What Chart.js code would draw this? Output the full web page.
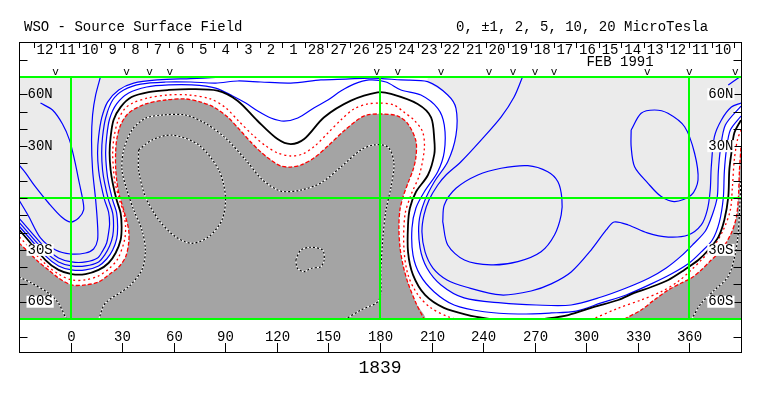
<!DOCTYPE html>
<html>
<head>
<meta charset="utf-8">
<script src="https://cdn.jsdelivr.net/npm/chart.js@4.4.1/dist/chart.umd.min.js"></script>
<style>
  html, body { margin: 0; padding: 0; background: #fff; }
  #wrap { width: 763px; height: 396px; }
</style>
</head>
<body>
<div id="wrap"><canvas id="kaart" width="763" height="396"></canvas></div>
<script>
'use strict';

// ---- data: [carrington longitude, latitude] ----
const lonTicks = [0, 30, 60, 90, 120, 150, 180, 210, 240, 270, 300, 330, 360];
const latTicks = [60, 30, -30, -60];
const latLabels = ['60N', '30N', '30S', '60S'];
const gridLon = [0, 180, 360];
const gridLat = [70, 0, -70];
const dayLabels = ['12', '11', '10', '9', '8', '7', '6', '5', '4', '3', '2', '1', '28', '27', '26', '25',
  '24', '23', '22', '21', '20', '19', '18', '17', '16', '15', '14', '13', '12', '11', '10'];
const dayStart = -21.5;
const dayStep = 13.15;
const obsMarks = [-8.7, 32.6, 46.0, 57.7, 178.2, 190.4, 215.5, 243.4, 257.4, 270.2, 281.3, 335.5, 359.9, 386.7];

const neutralMain = [[-29.7,-18.5],[-14.6,-35.9],[-7.0,-41.6],[0.6,-44.0],[8.7,-44.0],[16.3,-41.6],[22.1,-37.6],[26.2,-31.8],[29.1,-24.3],[29.7,-16.8],[29.1,-8.7],[26.8,-1.2],[24.5,8.7],[23.3,16.2],[22.7,26.0],[23.3,35.3],[25.0,45.1],[29.1,52.6],[35.5,58.4],[45.4,61.3],[57.1,62.5],[69.9,63.0],[85.4,62.1],[97.1,56.3],[108.7,44.7],[120.4,34.1],[128.1,31.2],[135.9,34.1],[147.5,46.7],[163.1,56.3],[178.6,61.1],[186.4,60.2],[201.9,54.4],[209.7,46.7],[211.6,33.5],[211.6,25.4],[207.9,13.3],[200.9,3.5],[197.4,-5.8],[196.3,-15.6],[196.3,-31.2],[199.2,-44.5],[206.2,-56.1],[217.2,-63.6],[231.2,-67.7],[246.4,-70.5]];
const neutralRight = [[272.0,-70.5],[289.5,-67.7],[304.6,-63.0],[318.6,-59.0],[327.9,-54.9],[337.8,-51.5],[347.7,-47.4],[357.0,-41.6],[365.2,-35.9],[371.0,-30.1],[376.8,-22.6],[380.3,-12.7],[382.6,0.6],[383.2,16.2],[384.4,26.0],[386.1,37.6],[390,45.1]];

const negMain = [[-30,-26.0],[-24.5,-31.2],[-18.6,-37.0],[-12.8,-41.6],[-7.0,-46.3],[0.6,-50.3],[8.7,-50.3],[16.3,-48.6],[22.1,-44.5],[28.0,-39.9],[32.0,-34.1],[33.8,-26.0],[33.8,-18.5],[32.0,-11.0],[29.7,-2.9],[28.0,2.9],[26.8,10.4],[26.2,17.9],[26.2,26.0],[26.8,33.5],[29.1,42.2],[33.8,49.2],[43.7,54.4],[55.3,56.7],[67.0,57.3],[75.7,55.5],[83.3,52.6],[91.4,46.8],[99.0,38.8],[104.8,32.4],[110.7,26.6],[116.5,22.0],[122.3,18.5],[128.1,17.9],[134.0,19.1],[141.5,23.1],[149.7,30.1],[159.0,38.8],[170.6,47.4],[180.5,48.6],[190.4,47.4],[196.3,42.8],[200.9,33.0],[200.9,23.7],[199.2,16.2],[196.3,8.7],[193.4,0.6],[191.6,-6.9],[191.0,-16.8],[191.6,-28.3],[193.4,-38.8],[196.3,-49.2],[200.9,-60.7],[205.6,-70]];
const negRight = [[322.1,-70],[331.9,-64.8],[339.5,-59.0],[347.7,-53.2],[355.3,-49.2],[361.1,-46.3],[366.9,-41.6],[372.7,-35.9],[378.6,-30.1],[384.4,-20.2],[387.3,-11.0],[388.5,0.6],[389.1,16.2],[390,29.5]];

const minTwoMain = [[-29.7,-22.6],[-14.6,-38.2],[-7.0,-44.0],[0.6,-47.4],[8.7,-47.4],[16.3,-45.1],[22.1,-41.1],[27.4,-35.3],[31.4,-24.3],[32.0,-16.8],[30.9,-8.7],[28.5,-1.2],[25.9,8.7],[25.0,16.2],[24.5,26.0],[25.3,35.3],[27.7,45.1],[31.4,51.5],[36.1,54.9],[44.8,57.8],[56.5,59.6],[68.7,59.6],[81.5,57.3],[90.3,52.1],[97.8,44.5],[106.0,36.4],[113.6,30.1],[120.6,26.0],[128.1,24.3],[135.1,25.5],[142.1,30.1],[149.7,37.6],[157.2,45.1],[164.8,51.5],[173.0,54.4],[180.5,54.9],[188.1,53.8],[193.9,49.7],[199.8,45.1],[204.8,38.3],[205.8,28.7],[202.9,13.3],[198.0,1.7],[194.5,-9.8],[193.9,-28.9],[196.3,-44.5],[202.1,-56.1],[209.7,-63.6],[219.6,-68.7],[225.4,-70.5]];
const minTwoRight = [[302.8,-70.5],[318.4,-63.8],[331.9,-59.0],[343.6,-54.2],[353.3,-48.4],[361.1,-41.6],[366.9,-35.9],[373.9,-28.3],[379.7,-18.5],[383.8,-6.9],[385.0,6.4],[386.1,22.0],[387.9,33.5],[390,39.3]];

const posA = [[-17.5,54.9],[-10.5,50.9],[-4.7,42.8],[-0.6,33.5],[2.3,22.0],[5.2,8.1],[7.0,-0.6],[7.6,-6.9],[4.7,-11.6],[0,-13.9],[-5.2,-11.0],[-12.8,-2.9],[-20.4,6.4],[-26.2,14.5],[-30,19.1]];
const posB = [[17.5,70.5],[14.6,59.6],[12.8,48.0],[12.2,33.5],[12.8,16.2],[14.6,-1.2],[15.7,-15.6],[15.7,-24.3],[13.4,-29.5],[8.7,-31.8],[0,-32.4],[-8.7,-30.1],[-17.5,-23.1],[-24.5,-10.4],[-30,-1.2]];
const posC = [[-30,-11.6],[-14.6,-28.9],[-7.0,-34.7],[0.6,-37.0],[8.7,-37.0],[15.7,-34.7],[18.6,-30.7],[21.0,-26.0],[22.1,-20.2],[22.7,-15.0],[22.1,-8.1],[19.8,-1.2],[17.5,8.7],[16.3,16.2],[15.7,26.0],[16.3,35.3],[18.1,46.3],[21.5,55.5],[28.0,62.5],[36.7,66.5],[50.7,68.3],[69.9,69.1],[84.4,69.7],[94.9,70.2]];
const posD = [[-30,-13.9],[-14.6,-31.2],[-7.0,-37.0],[0.6,-39.3],[8.7,-39.3],[16.3,-37.0],[19.8,-33.0],[22.7,-27.8],[24.5,-22.0],[25.0,-16.2],[24.5,-8.7],[22.1,-1.2],[19.8,8.7],[18.6,16.2],[18.1,26.0],[18.6,35.3],[20.4,46.3],[24.5,56.7],[30.9,62.5],[40.8,65.9],[55.3,67.1],[69.9,67.1],[84.4,66.5],[97.3,67.7],[110.7,67.1],[128.1,66.5],[145.6,68.3],[160.2,68.8],[174.7,69.4],[192.2,68.3],[207.7,67.3],[219.4,59.6],[224.2,51.9],[224.2,36.4],[219.4,21.0],[211.6,9.4],[205.8,-2.1],[202.7,-13.9],[203.3,-28.9],[207.3,-40.5],[215.5,-50.3],[228.9,-57.8],[250.4,-60.7],[270.8,-61.9],[291.2,-61.9],[308.7,-57.3],[323.2,-52.1],[336.6,-46.3],[346.5,-40.5],[355.3,-33.5],[362.3,-26.6],[369.3,-19.1],[373.3,-9.8],[376.2,0.6],[376.8,15.0],[378.0,27.8],[380.9,42.2],[390,53.2]];
const posE = [[-30,-16.2],[-14.6,-33.5],[-7.0,-39.3],[0.6,-41.6],[8.7,-41.6],[16.3,-39.3],[21.0,-35.3],[24.5,-30.1],[26.8,-23.7],[27.4,-16.8],[26.8,-8.7],[24.5,-1.2],[22.1,8.7],[21.0,16.2],[20.4,26.0],[21.0,35.3],[22.7,45.7],[26.8,54.4],[33.8,60.7],[44.3,64.2],[57.1,65.4],[70.5,65.4],[84.4,63.6],[94.3,59.0],[101.9,54.9],[108.9,50.3],[116.5,46.3],[124.1,44.5],[132.2,46.3],[141.5,52.1],[149.7,56.7],[157.2,61.9],[164.8,65.9],[173.6,68.3],[183.5,67.1],[192.2,62.5],[203.8,59.6],[213.6,51.9],[217.4,42.2],[217.4,26.8],[213.6,15.2],[205.8,3.6],[200.9,-5.8],[198.6,-17.4],[199.2,-33.0],[203.3,-44.5],[211.4,-54.2],[223.1,-61.9],[240.5,-65.8],[260.2,-67.1],[279.6,-66.5],[294.1,-65.4],[308.7,-60.7],[323.2,-56.1],[337.8,-49.7],[349.4,-44.0],[359.9,-37.6],[366.9,-31.2],[373.3,-24.3],[377.4,-13.9],[379.7,0],[380.3,15.0],[381.5,27.8],[383.8,39.3],[390,47.4]];
const posG = [[263.1,70.5],[258.0,58.4],[250.4,46.8],[238.8,33.5],[227.1,21.0],[218.4,13.3],[213.6,7.5],[208.5,-1.2],[205.6,-9.8],[204.4,-19.7],[206.2,-31.2],[210.8,-40.5],[219.0,-47.4],[230.0,-51.5],[250.4,-56.1],[267.9,-53.8],[279.6,-49.7],[291.2,-42.8],[302.8,-30.1],[311.6,-18.5],[316.2,-13.9],[324.4,-15.6],[335.5,-20.2],[347.7,-22.6],[359.3,-21.4],[366.9,-15.6],[370.4,-6.9],[372.1,4.6],[372.7,17.9],[374.5,35.3],[378.6,45.1],[384.4,52.6],[390,54.9]];
const loopF = [[216.5,-13.7],[217.4,-4.0],[224.2,5.6],[236.9,13.3],[250.4,17.2],[266.0,18.7],[277.6,15.2],[283.5,9.4],[285.8,-0.2],[285.4,-9.8],[281.5,-21.4],[273.7,-31.1],[260.2,-36.8],[244.6,-38.7],[229.1,-35.9],[219.4,-27.2],[216.5,-13.7]];
const loopH = [[326.1,39.3],[331.9,49.0],[339.7,50.9],[347.5,49.0],[357.2,41.2],[363.0,25.9],[365.0,10.4],[361.1,1.7],[351.4,-2.1],[343.6,0.8],[335.9,8.5],[328.1,18.1],[326.1,29.7],[326.1,39.3]];
const cornerNE = [[382.6,65.4],[390,70.5]];

const negK1 = [[16.3,-70.5],[20.2,-60.9],[33.8,-51.3],[41.5,-41.6],[43.5,-30.1],[41.5,-18.5],[36.7,-6.9],[32.8,4.6],[29.9,16.2],[30.9,27.8],[35.7,39.3],[43.5,46.1],[53.2,48.0],[66.8,48.0],[78.4,43.2],[90.1,34.7],[101.9,22.0],[111.8,10.4],[122.3,4.0],[134.0,4.6],[145.6,8.7],[157.2,17.9],[168.9,27.8],[176.5,30.7],[184.6,29.5],[188.1,20.2],[186.4,6.4],[183.5,-6.9],[181.7,-22.6],[180.5,-41.6],[179.4,-59.0],[168.9,-64.8],[159.0,-70.5]];
const negK2 = [[39.6,27.8],[47.3,33.5],[59.0,36.4],[74.5,30.7],[86.2,16.2],[90.1,0.8],[88.1,-12.7],[80.4,-22.4],[70.6,-26.2],[61.0,-22.4],[51.3,-12.7],[43.5,0.8],[39.6,16.2],[39.6,27.8]];
const negK3 = [[131.0,-35.9],[134.0,-30.1],[139.8,-28.5],[146.6,-30.1],[147.5,-35.9],[145.6,-39.7],[139.8,-40.7],[135.9,-42.6],[132.0,-40.7],[131.0,-35.9]];
const negK4 = [[-30,-45.7],[-22.5,-49.3],[-12.8,-55.1],[-7.0,-60.9],[-3.1,-68.7],[-2.3,-70.5]];
const negK5 = [[361.1,-70.5],[366.9,-60.9],[374.7,-53.2],[382.5,-45.5],[386.3,-34.0],[388.2,-22.4],[389.2,-6.9],[390,10.4]];

// ---- opbouw ----
const toPts = function(arr) {
  return arr.map(function(p) { return { x: p[0], y: p[1] }; });
};

const whiteBand = [...posE.slice(0, 17), ...posC.slice(17), [207.7, 70.5], ...posD.slice(30), [390, -70.5], [-30, -70.5]];
const negMainShape = [...negMain, [-30, -70.5]];
const negRightShape = [...negRight, [390, -70.5]];

const BLUE = '#0000ff';
const RED = '#ff0000';
const FONT = '14px "Liberation Mono", "DejaVu Sans Mono", monospace';

const lijn = function(data, color, width, dash, order) {
  return {
    data: toPts(data), borderColor: color, borderWidth: width, borderDash: dash,
    pointRadius: 0, fill: false, tension: 0.3, order: order
  };
};
const vlak = function(data, color, order) {
  return {
    data: toPts(data), borderColor: 'rgba(0,0,0,0)', borderWidth: 0, backgroundColor: color,
    pointRadius: 0, fill: 'shape', tension: 0.3, order: order
  };
};

const datasets = [
  vlak(whiteBand, '#ffffff', 30),
  vlak(negMainShape, '#a4a4a4', 20),
  vlak(negRightShape, '#a4a4a4', 20),
  lijn(negK1, '#ffffff', 1.2, [], 12),
  lijn(negK2, '#ffffff', 1.2, [], 12),
  lijn(negK3, '#ffffff', 1.2, [], 12),
  lijn(negK4, '#ffffff', 1.2, [], 12),
  lijn(negK5, '#ffffff', 1.2, [], 12),
  lijn(negK1, '#000', 1.2, [2, 2], 11),
  lijn(negK2, '#000', 1.2, [2, 2], 11),
  lijn(negK3, '#000', 1.2, [2, 2], 11),
  lijn(negK4, '#000', 1.2, [2, 2], 11),
  lijn(negK5, '#000', 1.2, [2, 2], 11),
  lijn(posA, BLUE, 1.2, [], 6),
  lijn(posB, BLUE, 1.2, [], 6),
  lijn(posC, BLUE, 1.2, [], 6),
  lijn(posD, BLUE, 1.2, [], 6),
  lijn(posE, BLUE, 1.2, [], 6),
  lijn(posG, BLUE, 1.2, [], 6),
  lijn(loopF, BLUE, 1.2, [], 6),
  lijn(loopH, BLUE, 1.2, [], 6),
  lijn(cornerNE, BLUE, 1.2, [], 6),
  lijn(negMain, RED, 1.3, [4, 2], 5),
  lijn(negRight, RED, 1.3, [4, 2], 5),
  lijn(minTwoMain, RED, 1.3, [2, 3], 5),
  lijn(minTwoRight, RED, 1.3, [2, 3], 5),
  lijn(neutralMain, '#000', 1.8, [], 4),
  lijn(neutralRight, '#000', 1.8, [], 4)
];

const tekst = function(ctx, txt, x, y, align, font, bg) {
  ctx.font = font;
  ctx.textAlign = align;
  ctx.textBaseline = 'middle';
  if (bg) {
    const w = ctx.measureText(txt).width;
    const x0 = align === 'right' ? x - w : (align === 'center' ? x - w / 2 : x);
    ctx.fillStyle = '#fff';
    ctx.fillRect(x0 - 1, y - 6, w + 2, 12);
  }
  ctx.fillStyle = '#000';
  ctx.fillText(txt, x, y);
};

const streep = function(ctx, x1, y1, x2, y2) {
  ctx.beginPath();
  ctx.moveTo(x1, y1);
  ctx.lineTo(x2, y2);
  ctx.stroke();
};

const kader = {
  id: 'kader',
  beforeDatasetsDraw: function(chart) {
    const ctx = chart.ctx;
    const a = chart.chartArea;
    ctx.save();
    ctx.fillStyle = '#ebebeb';
    ctx.fillRect(a.left, a.top, a.right - a.left, a.bottom - a.top);
    ctx.restore();
  },
  afterDatasetsDraw: function(chart) {
    const ctx = chart.ctx;
    const a = chart.chartArea;
    const sx = chart.scales.x;
    const sy = chart.scales.y;
    const L = Math.round(a.left) + 0.5;
    const R = Math.round(a.right) + 0.5;
    const top = 42.5;
    const bottom = 352.5;
    ctx.save();

    // groene rasterlijnen
    ctx.strokeStyle = '#00ff00';
    ctx.lineWidth = 2;
    for (const lon of gridLon) {
      const x = Math.round(sx.getPixelForValue(lon));
      streep(ctx, x, a.top, x, a.bottom);
    }
    for (const lat of gridLat) {
      const y = Math.round(sy.getPixelForValue(lat));
      streep(ctx, a.left, y, a.right, y);
    }

    // kader
    ctx.strokeStyle = '#000';
    ctx.lineWidth = 1;
    ctx.strokeRect(L, top, R - L, bottom - top);

    // breedte-ticks links en rechts
    for (let lat = -60; lat <= 60; lat += 10) {
      const y = Math.round(sy.getPixelForValue(lat)) + 0.5;
      streep(ctx, L, y, L + 8, y);
      streep(ctx, R - 8, y, R, y);
    }
    latTicks.forEach(function(lat, i) {
      const y = sy.getPixelForValue(lat);
      tekst(ctx, latLabels[i], L + 8, y, 'left', FONT, lat < 0);
      tekst(ctx, latLabels[i], R - 8, y, 'right', FONT, true);
    });

    // kop: dagen
    for (let k = 0; k <= dayLabels.length; k++) {
      const x = Math.round(sx.getPixelForValue(dayStart + k * dayStep)) + 0.5;
      streep(ctx, x, 43, x, 48);
    }
    dayLabels.forEach(function(d, i) {
      tekst(ctx, d, sx.getPixelForValue(dayStart + (i + 0.5) * dayStep), 50, 'center', FONT, false);
    });
    tekst(ctx, 'FEB 1991', 620, 62, 'center', FONT, false);
    streep(ctx, L, 60.5, L + 8, 60.5);
    streep(ctx, R - 8, 60.5, R, 60.5);
    for (const lon of obsMarks) {
      tekst(ctx, 'v', sx.getPixelForValue(lon), 72, 'center', '11px "Liberation Mono", monospace', false);
    }

    // onderkant: lengtegraden
    for (const lon of lonTicks) {
      const x = Math.round(sx.getPixelForValue(lon)) + 0.5;
      tekst(ctx, String(lon), x, 337, 'center', FONT, false);
      streep(ctx, x, 343, x, bottom);
    }
    streep(ctx, L, 337.5, L + 8, 337.5);
    streep(ctx, R - 8, 337.5, R, 337.5);

    // titels
    tekst(ctx, 'WSO - Source Surface Field', 24, 27, 'left', FONT, false);
    tekst(ctx, '0, \u00b11, 2, 5, 10, 20 MicroTesla', 456, 27, 'left', FONT, false);
    tekst(ctx, '1839', 380, 368, 'center', '18px "Liberation Mono", monospace', false);
    ctx.restore();
  }
};

const init = function() {
  const ctx = document.getElementById('kaart');
  new Chart(ctx, {
    type: 'line',
    data: { datasets: datasets },
    options: {
      responsive: false,
      animation: false,
      devicePixelRatio: 1,
      layout: { padding: { left: 19, right: 22, top: 77, bottom: 77 } },
      plugins: { legend: { display: false }, tooltip: { enabled: false } },
      scales: {
        x: { type: 'linear', min: -30, max: 390, display: false },
        y: { type: 'linear', min: -70, max: 70, display: false }
      }
    },
    plugins: [kader]
  });
};

document.addEventListener('DOMContentLoaded', init);
</script>
</body>
</html>
